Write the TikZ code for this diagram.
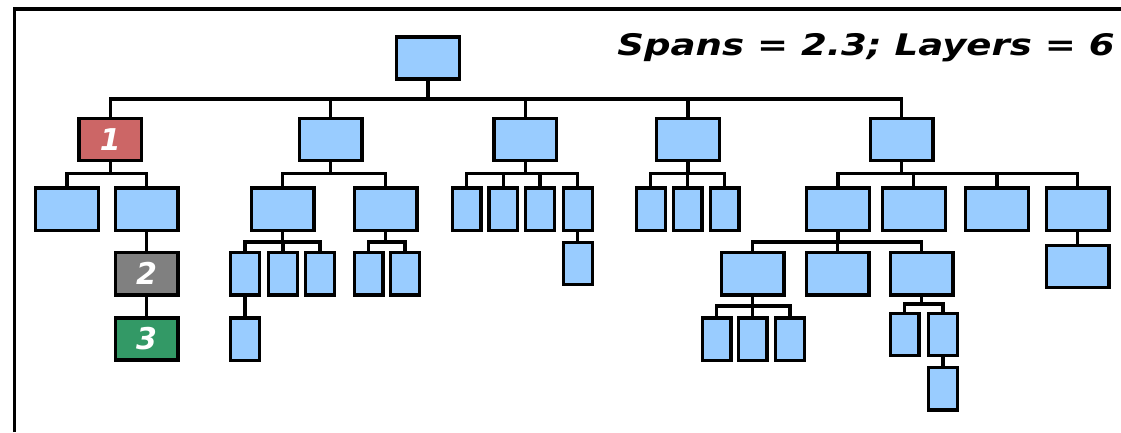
\documentclass[tikz,border=0pt]{standalone}
\usepackage{fontspec}
\newfontfamily\vfont{DejaVu Sans}
\definecolor{boxblue}{HTML}{99CCFF}
\definecolor{boxred}{HTML}{CC6666}
\definecolor{boxgray}{HTML}{808080}
\definecolor{boxgreen}{HTML}{339966}
\tikzset{
  box/.style={draw=black, line width=3.3pt, fill=boxblue, minimum width=62.7pt, minimum height=42.2pt, inner sep=0pt},
  nbox/.style={box, minimum width=28.7pt},
  conn/.style={line width=3.2pt},
  lbl/.style={font=\vfont\bfseries\itshape\fontsize{30}{30}\selectfont, text=white},
  frameline/.style={line width=3.3pt}
}
\newcommand{\tconn}[3]{\draw[conn] (#1.south) -- (#1.south |- #2) -| (#3.north);}
\begin{document}
\begin{tikzpicture}[x=1pt,y=-1pt]
\useasboundingbox (0,0) rectangle (1121,432);
\coordinate (fbl) at (14.3,432);
\coordinate (ftl) at (14.3,9);
\coordinate (ftr) at (1121,9);
\draw[frameline] (fbl) -- (ftl) -- (ftr);

\node[anchor=base east, inner sep=0pt, font=\vfont\bfseries\itshape\fontsize{29.7}{30}\selectfont] (title) at (1115,55.5) {\scalebox{1.25}[1]{Spans = 2.3; Layers = 6}};

% bus levels
\coordinate (bR) at (0,99);
\coordinate (b1) at (0,173.5);
\coordinate (b2) at (0,242);
\coordinate (b3a) at (0,306);
\coordinate (b3c) at (0,304);

% nodes
\node[box] (root) at (428,58) {};
\node[box, fill=boxred, lbl] (n1) at (110.3,139.7) {1};
\node[box] (nB) at (330.7,139.7) {};
\node[box] (nC) at (525.3,139.7) {};
\node[box] (nD) at (688,139.7) {};
\node[box] (nE) at (901.7,139.7) {};

\node[box] (n1a) at (67,209.2) {};
\node[box] (n1b) at (146.5,209.2) {};
\node[box, fill=boxgray, lbl] (n2) at (146.5,273.8) {2};
\node[box, fill=boxgreen, lbl] (n3) at (146.5,339) {3};

\node[box] (nBa) at (282.7,209.2) {};
\node[box] (nBb) at (385.5,209.2) {};
\node[nbox] (nBa1) at (245,273.8) {};
\node[nbox] (nBa2) at (283,273.8) {};
\node[nbox] (nBa3) at (320,273.8) {};
\node[nbox] (nBa1x) at (245,339.2) {};
\node[nbox] (nBb1) at (368.5,273.8) {};
\node[nbox] (nBb2) at (405,273.8) {};

\node[nbox] (nC1) at (466.7,209.2) {};
\node[nbox] (nC2) at (503.3,209.2) {};
\node[nbox] (nC3) at (540,209.2) {};
\node[nbox] (nC4) at (577.8,209.2) {};
\node[nbox] (nC4x) at (577.8,263.4) {};

\node[nbox] (nD1) at (650.8,209.2) {};
\node[nbox] (nD2) at (687.5,209.2) {};
\node[nbox] (nD3) at (724.7,209.2) {};

\node[box] (nE1) at (838,209.2) {};
\node[box] (nE2) at (913.8,209.2) {};
\node[box] (nE3) at (997,209.2) {};
\node[box] (nE4) at (1077.7,209.2) {};
\node[box] (nE4x) at (1077.7,266.7) {};
\node[box] (nE1a) at (752.7,273.8) {};
\node[box] (nE1b) at (837.7,273.8) {};
\node[box] (nE1c) at (921.7,273.8) {};
\node[nbox] (nE1a1) at (716.5,339.2) {};
\node[nbox] (nE1a2) at (752.5,339.2) {};
\node[nbox] (nE1a3) at (790,339.2) {};
\node[nbox] (nE1c1) at (904.7,334.5) {};
\node[nbox] (nE1c2) at (943,334.5) {};
\node[nbox] (nE1c2x) at (943,388.8) {};

% connectors
\foreach \c in {n1,nB,nC,nD,nE} {\tconn{root}{bR}{\c}}
\foreach \c in {n1a,n1b} {\tconn{n1}{b1}{\c}}
\draw[conn] (n1b.south) -- (n2.north);
\draw[conn] (n2.south) -- (n3.north);
\foreach \c in {nBa,nBb} {\tconn{nB}{b1}{\c}}
\foreach \c in {nBa1,nBa2,nBa3} {\tconn{nBa}{b2}{\c}}
\draw[conn] (nBa1.south) -- (nBa1x.north);
\foreach \c in {nBb1,nBb2} {\tconn{nBb}{b2}{\c}}
\foreach \c in {nC1,nC2,nC3,nC4} {\tconn{nC}{b1}{\c}}
\draw[conn] (nC4.south) -- (nC4x.north);
\foreach \c in {nD1,nD2,nD3} {\tconn{nD}{b1}{\c}}
\foreach \c in {nE1,nE2,nE3,nE4} {\tconn{nE}{b1}{\c}}
\draw[conn] (nE4.south) -- (nE4x.north);
\foreach \c in {nE1a,nE1b,nE1c} {\tconn{nE1}{b2}{\c}}
\foreach \c in {nE1a1,nE1a2,nE1a3} {\tconn{nE1a}{b3a}{\c}}
\foreach \c in {nE1c1,nE1c2} {\tconn{nE1c}{b3c}{\c}}
\draw[conn] (nE1c2.south) -- (nE1c2x.north);
\end{tikzpicture}
\end{document}
